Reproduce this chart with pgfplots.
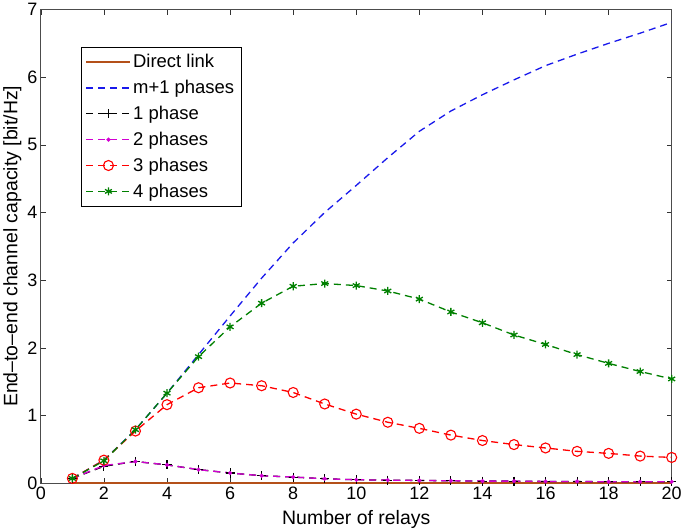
\documentclass[border=0pt]{standalone}
\usepackage{fontspec}
\setmainfont{Liberation Sans}
\usepackage{pgfplots}
\pgfplotsset{compat=1.18}
\definecolor{mbrown}{RGB}{180,80,25}
\definecolor{mblue}{RGB}{25,25,235}
\definecolor{mgreen}{RGB}{0,128,0}
\definecolor{mred}{RGB}{255,0,0}
\definecolor{mmag}{RGB}{210,0,210}
\begin{document}
\begin{tikzpicture}[font=\fontsize{18}{21}\selectfont]
\begin{axis}[
    scale only axis,
    width=630bp, height=473bp,
    xmin=0, xmax=20, ymin=0, ymax=7,
    xtick={0,2,...,20}, ytick={0,1,...,7},
    tick align=inside,
    major tick length=5bp,
    tick style={color=black!80, line width=0.5bp},
    axis line style={color=black!70, line width=0.7bp},
    /pgf/number format/assume math mode=true,
    ticklabel style={font=\fontsize{18}{21}\selectfont},
    xlabel={Number of relays},
    ylabel={End--to--end channel capacity [bit/Hz]},
    label style={font=\fontsize{19.5}{22}\selectfont},
    xlabel style={yshift=-4bp},
    ylabel style={yshift=-1bp},
    legend cell align=left,
    legend style={at={(0.063,0.92)}, anchor=north west, draw=black,
        inner sep=5bp, row sep=7bp,
        font=\fontsize{18.5}{21}\selectfont},
    legend image code/.code={%
        \draw[mark repeat=2, mark phase=2, #1]
        plot coordinates {(0bp,0bp) (22bp,0bp) (44bp,0bp)};},
]
\addplot[mbrown, solid, line width=1.3bp, no markers] coordinates {
(1,0.004) (2,0.004) (3,0.004) (4,0.004) (5,0.004) (6,0.004) (7,0.004) (8,0.004) (9,0.004) (10,0.004)
(11,0.004) (12,0.004) (13,0.004) (14,0.004) (15,0.004) (16,0.004) (17,0.004) (18,0.004) (19,0.004) (20,0.004)};
\addlegendentry{Direct link}
\addplot[mblue, line width=1.3bp, dash pattern=on 7bp off 5bp, no markers] coordinates {
(1,0.07) (2,0.34) (3,0.79) (4,1.33) (5,1.90) (6,2.47) (7,3.03) (8,3.55) (9,4.00) (10,4.40)
(11,4.81) (12,5.20) (13,5.50) (14,5.74) (15,5.96) (16,6.17) (17,6.34) (18,6.50) (19,6.65) (20,6.81)};
\addlegendentry{m+1 phases}
\addplot[black, line width=1.3bp, dash pattern=on 7bp off 5bp, mark=+, mark size=4.5bp, mark options={solid, line width=1.1bp}] coordinates {
(1,0.07) (2,0.25) (3,0.32) (4,0.27) (5,0.20) (6,0.15) (7,0.11) (8,0.09) (9,0.065) (10,0.05)
(11,0.045) (12,0.04) (13,0.035) (14,0.03) (15,0.03) (16,0.025) (17,0.025) (18,0.02) (19,0.02) (20,0.02)};
\addlegendentry{1 phase}
\addplot[mmag, line width=1.3bp, dash pattern=on 7bp off 5bp, mark=*, mark size=1.3bp, mark options={solid}] coordinates {
(1,0.07) (2,0.26) (3,0.32) (4,0.27) (5,0.20) (6,0.15) (7,0.11) (8,0.09) (9,0.065) (10,0.05)
(11,0.045) (12,0.04) (13,0.035) (14,0.03) (15,0.03) (16,0.025) (17,0.025) (18,0.02) (19,0.02) (20,0.02)};
\addlegendentry{2 phases}
\addplot[mred, line width=1.3bp, dash pattern=on 7bp off 5bp, mark=o, mark size=5bp, mark options={solid, line width=1.1bp}] coordinates {
(1,0.07) (2,0.34) (3,0.77) (4,1.16) (5,1.41) (6,1.48) (7,1.44) (8,1.34) (9,1.17) (10,1.02)
(11,0.90) (12,0.81) (13,0.71) (14,0.63) (15,0.57) (16,0.52) (17,0.47) (18,0.44) (19,0.40) (20,0.38)};
\addlegendentry{3 phases}
\addplot[mgreen, line width=1.3bp, dash pattern=on 7bp off 5bp, mark=asterisk, mark size=4bp, mark options={solid, line width=1.3bp}] coordinates {
(1,0.07) (2,0.33) (3,0.79) (4,1.33) (5,1.87) (6,2.31) (7,2.66) (8,2.91) (9,2.95) (10,2.92)
(11,2.84) (12,2.72) (13,2.53) (14,2.37) (15,2.19) (16,2.05) (17,1.90) (18,1.77) (19,1.65) (20,1.54)};
\addlegendentry{4 phases}
\end{axis}
\end{tikzpicture}
\end{document}
